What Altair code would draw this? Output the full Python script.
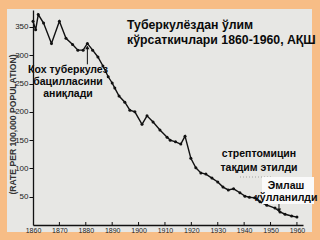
import altair as alt
import pandas as pd

# Tuberculosis death rate in the USA, per 100,000 population
years = [1860, 1861, 1862, 1864, 1867, 1870, 1872.5, 1875, 1877, 1879, 1880.6,
         1882.6, 1884.6, 1886.5, 1888.5, 1890, 1891, 1892.6, 1894.8, 1896.7,
         1898.6, 1901.3, 1903.2, 1905.5, 1908.1, 1910.8, 1912, 1914, 1916,
         1917.6, 1919.8, 1921.7, 1923.6, 1925.5, 1927.8, 1930, 1932, 1934,
         1936, 1938.4, 1940.3, 1942, 1944, 1946, 1948.6, 1951.7, 1953.6,
         1955.5, 1958, 1960]
rates = [360, 345, 372, 357, 321, 360, 330, 319, 309, 309, 321,
         309, 297, 281, 262, 251, 242, 228, 217, 203,
         200, 178, 193, 182, 168, 155, 150, 147, 143,
         157, 118, 101, 92, 90, 83, 76, 67, 62,
         64, 57, 51, 49, 48, 41, 35, 30, 23,
         19, 16, 14]

x_ticks = [1860, 1870, 1880, 1890, 1900, 1910, 1920, 1930, 1940, 1950, 1960]
y_ticks = [50, 100, 150, 200, 250, 300, 350]

# Arrows: Koch's discovery (1882) and start of vaccination
arrow_years = [1880.6, 1953.2]
arrow_from = [284, 39]
arrow_to = [314, 26]
arrow_heads = ["triangle-up", "triangle-down"]

title_lines = ["Туберкулёздан ўлим", "кўрсаткичлари 1860-1960, АҚШ"]
koch_lines = ["Кох туберкулез", "бацилласини", "аниқлади"]
strep_lines = ["стрептомицин", "тақдим этилди"]
vacc_lines = ["Эмлаш", "кўлланилди"]

df = pd.DataFrame({"year": years, "rate": rates})
arrows = pd.DataFrame({"year": arrow_years, "y0": arrow_from, "y1": arrow_to,
                       "shape": arrow_heads})
ticks = pd.DataFrame({"year": x_ticks[1:]})
one = pd.DataFrame({"k": [0]})

W, H = 270, 215
FONT = "Liberation Sans"

xs = alt.Scale(domain=[1860, 1962.3], nice=False, zero=False)
ys = alt.Scale(domain=[0, 380], nice=False)

y_axis = alt.Axis(values=y_ticks, tickSize=4, labelPadding=1, labelFontSize=8,
                  labelFont=FONT, labelColor="#222", tickColor="#111",
                  domainColor="#111", domainWidth=1.3, grid=False,
                  labelFlush=False, zindex=1,
                  title="(RATE PER 100,000 POPULATION)", titleFont=FONT,
                  titleFontSize=8.6, titleFontWeight="bold", titleColor="#333",
                  titleX=-21, titleY=114, titleAngle=-90,
                  titleAlign="center", titleBaseline="middle")
x_axis = alt.Axis(values=x_ticks, format="d", tickSize=0, labelPadding=1,
                  labelFontSize=7, labelFont=FONT, labelColor="#222",
                  domainColor="#111", domainWidth=1.5, grid=False,
                  labelFlush=False, zindex=1, title=None)

X = alt.X("year:Q", scale=xs, axis=x_axis)

panel = alt.Chart(one).mark_rect(color="#E7E7E4").encode(
    x=alt.value(-26), x2=alt.value(279), y=alt.value(-1), y2=alt.value(222))

# small inward tick marks sitting on the x axis
tick_marks = alt.Chart(ticks).mark_rule(color="#111", strokeWidth=1).encode(
    x=X, y=alt.value(H), y2=alt.value(H - 3))

line = alt.Chart(df).mark_line(color="#111", strokeWidth=1.4).encode(
    x=X, y=alt.Y("rate:Q", scale=ys, axis=y_axis))

points = alt.Chart(df).mark_point(filled=True, color="#111", size=9,
                                  opacity=1).encode(
    x=X, y=alt.Y("rate:Q", scale=ys, axis=y_axis))

arrow_lines = alt.Chart(arrows).mark_rule(color="#111", strokeWidth=1).encode(
    x=X, y=alt.Y("y0:Q", scale=ys, axis=y_axis), y2="y1:Q")

arrow_tips = alt.Chart(arrows).mark_point(filled=True, color="#111", size=18,
                                          opacity=1).encode(
    x=X, y=alt.Y("y1:Q", scale=ys, axis=y_axis),
    shape=alt.Shape("shape:N", scale=None))

vacc_box = alt.Chart(one).mark_rect(color="#FAFAFA").encode(
    x=alt.value(229), x2=alt.value(281), y=alt.value(167), y2=alt.value(194))

faint = alt.Chart(one).mark_rule(color="#888", strokeDash=[1, 2],
                                 strokeWidth=1, opacity=0.7).encode(
    x=alt.value(207), x2=alt.value(240), y=alt.value(167))


def text_block(lines, x, y0, step, align, size):
    layers = []
    for i, t in enumerate(lines):
        layers.append(alt.Chart(one).mark_text(
            text=t, font=FONT, fontSize=size, fontWeight="bold",
            color="#0a0a0a", align=align, baseline="middle").encode(
            x=alt.value(x), y=alt.value(y0 + i * step)))
    return layers


texts = (text_block(title_lines, 94, 15, 15, "left", 12.3)
         + text_block(koch_lines, 35, 60, 12, "center", 10.5)
         + text_block(strep_lines, 226, 144, 14, "center", 10.5)
         + text_block(vacc_lines, 253, 176, 12, "center", 10.5))

chart = alt.layer(
    panel, faint, tick_marks, line, points, arrow_lines, arrow_tips,
    vacc_box, *texts
).properties(
    width=W, height=H, autosize="none",
    padding={"left": 33, "top": 10, "right": 17, "bottom": 15},
).configure(background="#F7BD86").configure_view(strokeWidth=0)

chart.save("out.html", embed_options={"renderer": "svg", "actions": False})
